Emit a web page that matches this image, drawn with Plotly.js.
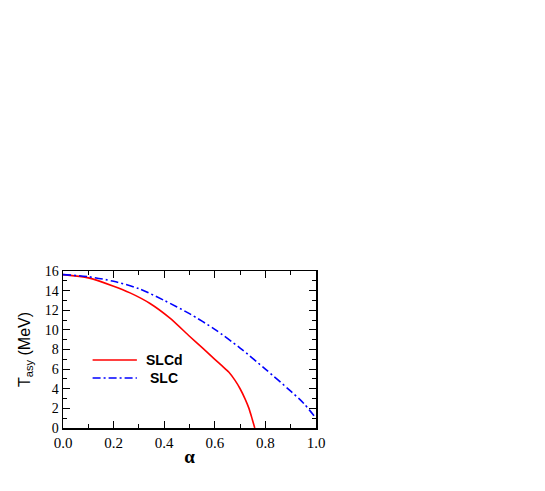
<!DOCTYPE html>
<html>
<head>
<meta charset="utf-8">
<script src="https://cdn.plot.ly/plotly-3.0.1.min.js"></script>
<style>
html,body{margin:0;padding:0;background:#fff}
#chart{width:545px;height:491px}
</style>
</head>
<body>
<div id="chart"></div>
<script>
// ── data ──
const alphaSLCd=[0.0,0.1,0.2,0.265,0.344,0.424,0.5,0.55,0.6,0.63,0.655,0.68,0.70,0.72,0.735,0.748,0.758];
const tasySLCd =[15.63,15.3,14.45,13.77,12.69,11.17,9.35,8.2,7.0,6.3,5.7,4.85,4.0,2.95,2.0,0.9,0.0];
const alphaSLC =[0.0,0.1,0.2,0.3,0.4,0.5,0.6,0.7,0.8,0.9,0.95,1.0];
const tasySLC  =[15.63,15.42,14.95,14.2,13.0,11.65,10.05,8.15,6.0,3.75,2.55,1.0];
const xTicks=[0,0.2,0.4,0.6,0.8,1.0];
const xTickText=['0.0','0.2','0.4','0.6','0.8','1.0'];
const yTicks=[0,2,4,6,8,10,12,14,16];
const seriesNames=['SLCd','SLC'];

const serif='"Liberation Serif","Times New Roman",serif';
const sans='"Liberation Sans",Arial,sans-serif';

const traces=[
  {x:alphaSLCd,y:tasySLCd,type:'scatter',mode:'lines',name:seriesNames[0],
   line:{color:'#ff0000',width:1.6,shape:'spline',smoothing:0.6}},
  {x:alphaSLC,y:tasySLC,type:'scatter',mode:'lines',name:seriesNames[1],
   line:{color:'#0000ff',width:1.6,dash:'8px,3px,2px,3px',shape:'spline',smoothing:0.8}}
];

const axisBase={
  showline:true,linecolor:'#000',linewidth:1.5,mirror:'ticks',
  ticks:'inside',ticklen:7,tickwidth:1,tickcolor:'#000',
  showgrid:false,zeroline:false
};

const layout={
  width:545,height:491,
  paper_bgcolor:'#fff',plot_bgcolor:'#fff',
  margin:{l:63,r:229,t:271,b:63},
  showlegend:false,
  xaxis:Object.assign({},axisBase,{
    range:[0,1],tickvals:xTicks,ticktext:xTickText,
    minor:{dtick:0.1,ticks:'inside',ticklen:4,tickcolor:'#000'},
    tickfont:{family:serif,size:15,color:'#000'},
    title:{text:'<b>α</b>',font:{family:serif,size:19,color:'#000'},standoff:0}
  }),
  yaxis:Object.assign({},axisBase,{
    range:[0,16],tickvals:yTicks,
    minor:{dtick:1,ticks:'inside',ticklen:4,tickcolor:'#000'},
    tickfont:{family:serif,size:14,color:'#000'},
    title:{text:'T<sub>asy</sub> (MeV)',font:{family:sans,size:16,color:'#000'},standoff:10}
  }),
  shapes:[
    {type:'line',xref:'paper',yref:'paper',x0:0.117,x1:0.292,y0:0.433,y1:0.433,
     line:{color:'#ff0000',width:1.6}},
    {type:'line',xref:'paper',yref:'paper',x0:0.117,x1:0.292,y0:0.318,y1:0.318,
     line:{color:'#0000ff',width:1.6,dash:'8px,3px,2px,3px'}}
  ],
  annotations:[
    {xref:'paper',yref:'paper',x:0.320,y:0.433,xanchor:'left',yanchor:'middle',showarrow:false,
     text:'<b>'+seriesNames[0]+'</b>',font:{family:sans,size:14,color:'#000'}},
    {xref:'paper',yref:'paper',x:0.336,y:0.318,xanchor:'left',yanchor:'middle',showarrow:false,
     text:'<b>'+seriesNames[1]+'</b>',font:{family:sans,size:14,color:'#000'}}
  ]
};

Plotly.newPlot('chart',traces,layout,{displayModeBar:false,staticPlot:true});
</script>
</body>
</html>
